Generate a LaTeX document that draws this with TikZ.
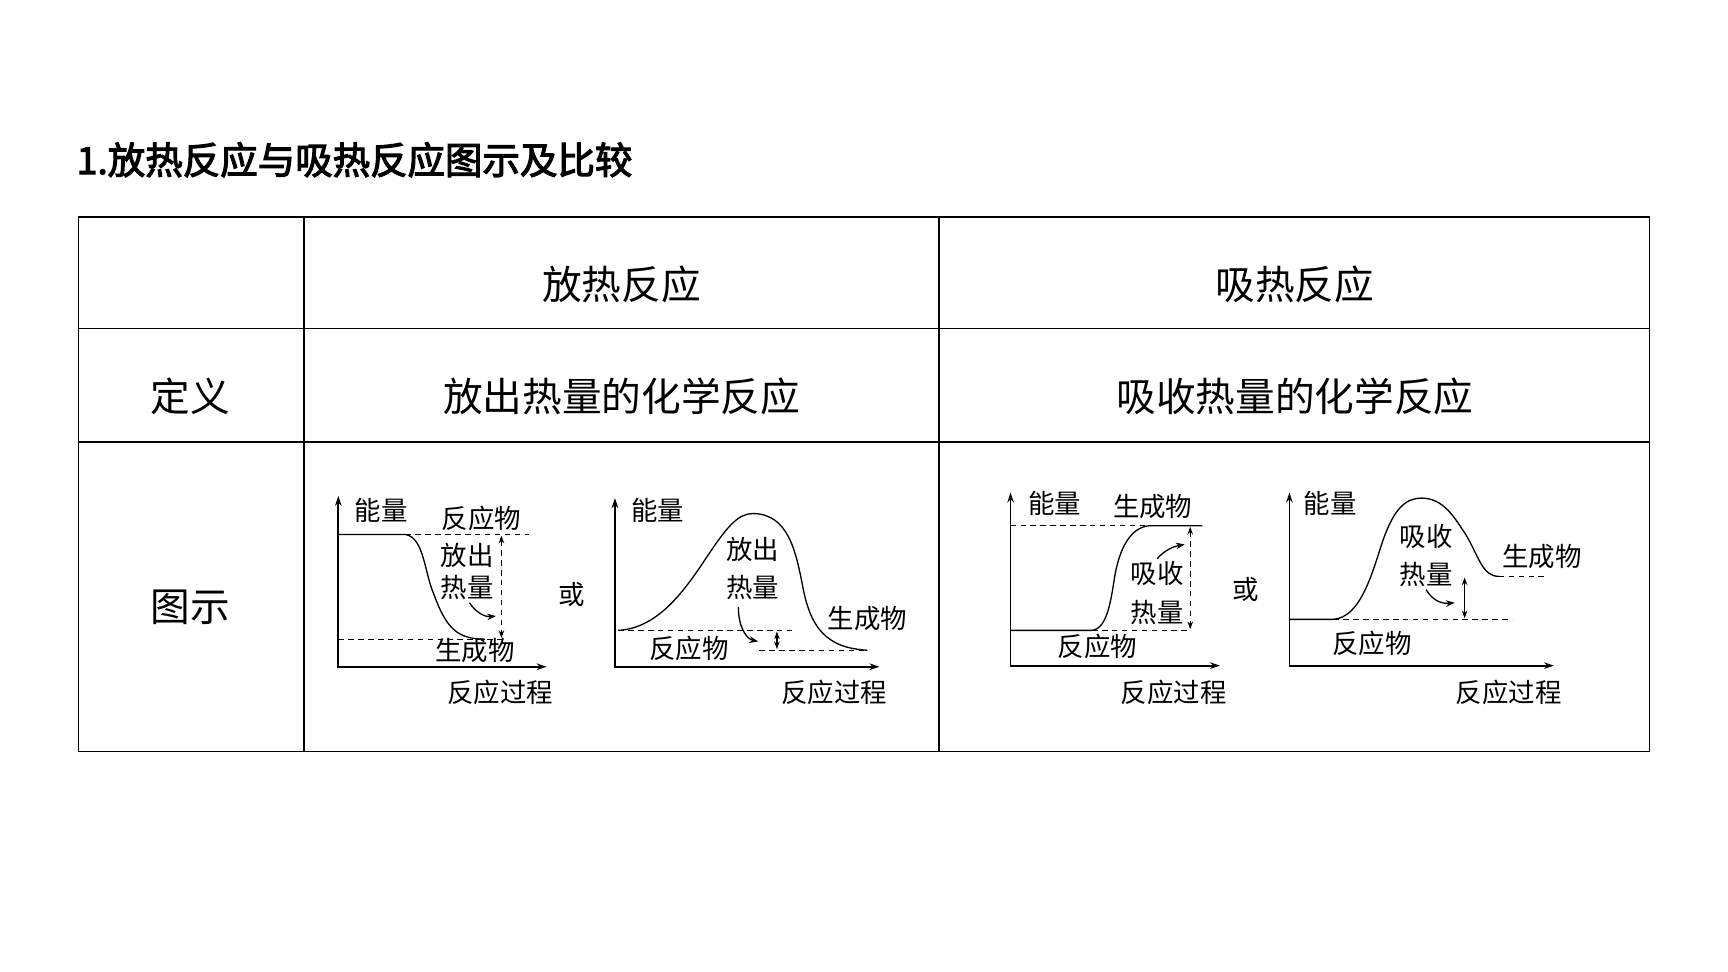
\documentclass[tikz,border=0pt]{standalone}
\usepackage{fontspec}
\setmainfont{Noto Sans CJK SC}
\newfontfamily\cjkb[FakeBold=3]{Noto Sans CJK SC}
\usetikzlibrary{arrows.meta}
\begin{document}
\begin{tikzpicture}[x=1pt,y=-1pt,
  big/.style={font=\fontsize{36}{36}\selectfont},
  lab/.style={font=\fontsize{24}{24}\selectfont,inner sep=0pt},
  ax/.style={line width=1.6pt,-{Stealth[length=9pt,width=6pt]}},
  cv/.style={line width=1.2pt},
  dl/.style={line width=1.2pt,dash pattern=on 5pt off 4pt},
  da/.style={line width=1.2pt,dash pattern=on 5pt off 4pt,{Stealth[length=7pt,width=5pt]}-{Stealth[length=7pt,width=5pt]}},
  sa/.style={line width=1.2pt,{Stealth[length=7pt,width=5pt]}-{Stealth[length=7pt,width=5pt]}},
  ca/.style={line width=1.2pt,-{Stealth[length=8pt,width=6pt]}}]
\useasboundingbox (0,0) rectangle (1568,882);
\fill[white] (0,0) rectangle (1568,882);
\node[anchor=west,font=\fontsize{34}{34}\selectfont\cjkb] (title) at (66,145) {1.放热反应与吸热反应图示及比较};
% table
\draw[line width=1.3pt] (71,197) rectangle (1497,682);
\draw[line width=1.3pt] (276,197) -- (276,682) (852,197) -- (852,682) (71,298) -- (1497,298) (71,401) -- (1497,401);
\node[big] (h1) at (564,258) {放热反应};
\node[big] (h2) at (1175,258) {吸热反应};
\node[big] (r1) at (173,360) {定义};
\node[big] (d1) at (564,360) {放出热量的化学反应};
\node[big] (d2) at (1175,360) {吸收热量的化学反应};
\node[big] (r2) at (173,551) {图示};
% diagram 1
\draw[ax] (307,606) -- (307,450);
\draw[ax] (307,605) -- (496,605);
\draw[cv] (307,485) -- (368,485) .. controls (385,488) and (385,520) .. (394,540) .. controls (405,570) and (415,580) .. (440,580);
\draw[dl] (368,485) -- (480,485);
\draw[dl] (307,580) -- (457,580);
\draw[da] (455,486) -- (455,579);
\draw[ca] (426,547) .. controls (432,556) and (440,560) .. (450,559);
\node[lab] (a1) at (346,463) {能量};
\node[lab] (a2) at (437,470) {反应物};
\node[lab] (a3) at (424,504) {放出};
\node[lab] (a4) at (424,533) {热量};
\node[lab] (a5) at (431,590) {生成物};
\node[lab] (a6) at (454,628) {反应过程};
\node[lab] (or1) at (519,539) {或};
% diagram 2
\draw[ax] (558,606) -- (558,452);
\draw[ax] (558,605) -- (798,605);
\draw[cv] (561,572) .. controls (600,570) and (625,530) .. (645,500) .. controls (660,478) and (670,466) .. (683,466) .. controls (715,466) and (722,500) .. (728,530) .. controls (735,570) and (750,588) .. (787,590);
\draw[dl] (561,572) -- (720,572);
\draw[dl] (689,590) -- (787,590);
\draw[sa] (705,573) -- (705,589);
\draw[ca] (670,551) .. controls (670,570) and (678,580) .. (688,582);
\node[lab] (b1) at (597,463) {能量};
\node[lab] (b2) at (683,499) {放出};
\node[lab] (b3) at (683,533) {热量};
\node[lab] (b4) at (787,561) {生成物};
\node[lab] (b5) at (625,588) {反应物};
\node[lab] (b6) at (757,628) {反应过程};
% diagram 3
\draw[ax] (917,605) -- (917,447);
\draw[ax] (917,604) -- (1107,604);
\draw[cv] (917,572) -- (991,572) .. controls (1005,570) and (1008,545) .. (1012,520) .. controls (1018,490) and (1030,477) .. (1045,477) -- (1091,477);
\draw[dl] (917,477) -- (1045,477);
\draw[dl] (991,572) -- (1081,572);
\draw[da] (1080,478) -- (1080,571);
\draw[ca] (1050,507) .. controls (1056,500) and (1064,496) .. (1075,494);
\node[lab] (c1) at (957,457) {能量};
\node[lab] (c2) at (1046,460) {生成物};
\node[lab] (c3) at (1050,520) {吸收};
\node[lab] (c4) at (1050,556) {热量};
\node[lab] (c5) at (996,587) {反应物};
\node[lab] (c6) at (1065,628) {反应过程};
\node[lab] (or2) at (1130,535) {或};
% diagram 4
\draw[ax] (1170,605) -- (1170,447);
\draw[ax] (1170,604) -- (1410,604);
\draw[cv] (1170,562) -- (1210,562) .. controls (1235,560) and (1245,520) .. (1255,490) .. controls (1265,462) and (1275,452) .. (1290,452) .. controls (1310,452) and (1320,470) .. (1330,485) .. controls (1342,505) and (1345,523) .. (1360,523);
\draw[dl] (1210,562) -- (1372,562);
\draw[dl] (1360,523) -- (1402,523);
\draw[sa] (1329,524) -- (1329,561);
\draw[ca] (1294,535) .. controls (1300,545) and (1308,548) .. (1320,547);
\node[lab] (e1) at (1207,457) {能量};
\node[lab] (e2) at (1294,487) {吸收};
\node[lab] (e3) at (1294,521) {热量};
\node[lab] (e4) at (1399,505) {生成物};
\node[lab] (e5) at (1245,584) {反应物};
\node[lab] (e6) at (1369,628) {反应过程};
\end{tikzpicture}
\end{document}
